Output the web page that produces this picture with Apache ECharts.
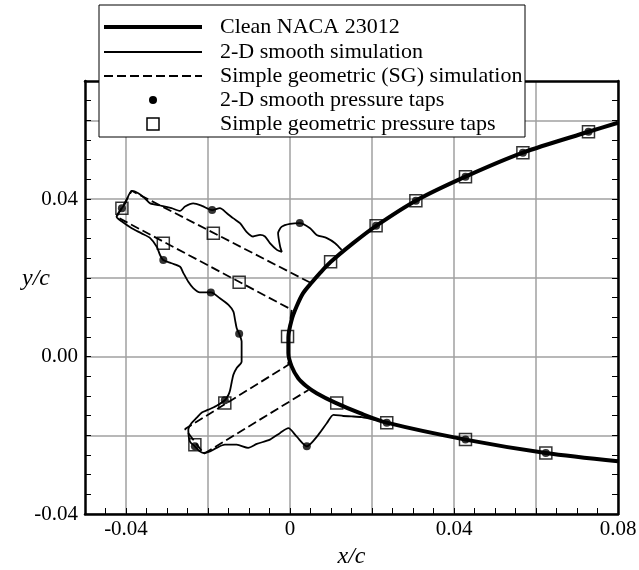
<!DOCTYPE html>
<html>
<head>
<meta charset="utf-8">
<script src="https://cdn.jsdelivr.net/npm/echarts@6/dist/echarts.min.js"></script>
<style>
  html, body { margin: 0; padding: 0; background: #fff; }
  #chart { width: 639px; height: 570px; }
</style>
</head>
<body>
<div id="chart"></div>
<script>
// clean NACA 23012 leading edge, upper trailing side -> lower trailing side
const cleanAirfoil = [
  [0.0800, 0.0594], [0.0728, 0.0571], [0.0568, 0.0518], [0.0428, 0.0457],
  [0.0307, 0.0396], [0.0210, 0.0332], [0.0154, 0.0288], [0.0099, 0.0240],
  [0.0073, 0.0212], [0.0053, 0.0188], [0.0032, 0.0161], [0.0016, 0.0127],
  [0.0004, 0.0093], [-0.0004, 0.0049], [-0.0004, 0.0009], [0.0004, -0.0025],
  [0.0020, -0.0055], [0.0041, -0.0076], [0.0065, -0.0093], [0.0110, -0.0117],
  [0.0171, -0.0144], [0.0236, -0.0168], [0.0428, -0.0211], [0.0624, -0.0245],
  [0.0800, -0.0266]
]

// 2-D smooth ice shape outline
const smoothIce = [
  [0.0126, 0.0271], [0.0110, 0.0288], [0.0090, 0.0301], [0.0065, 0.0309],
  [0.0049, 0.0326], [0.0024, 0.0339], [0.0000, 0.0337], [-0.0020, 0.0330],
  [-0.0029, 0.0313], [-0.0024, 0.0279], [-0.0020, 0.0266], [-0.0032, 0.0271],
  [-0.0049, 0.0288], [-0.0061, 0.0305], [-0.0073, 0.0309], [-0.0090, 0.0305],
  [-0.0106, 0.0317], [-0.0122, 0.0339], [-0.0138, 0.0351], [-0.0154, 0.0364],
  [-0.0171, 0.0377], [-0.0190, 0.0372], [-0.0215, 0.0383], [-0.0236, 0.0389],
  [-0.0256, 0.0381], [-0.0268, 0.0370], [-0.0289, 0.0377], [-0.0313, 0.0383],
  [-0.0341, 0.0389], [-0.0354, 0.0402], [-0.0370, 0.0415], [-0.0386, 0.0421],
  [-0.0402, 0.0389], [-0.0410, 0.0377], [-0.0423, 0.0355], [-0.0410, 0.0343],
  [-0.0386, 0.0326], [-0.0362, 0.0313], [-0.0341, 0.0301], [-0.0325, 0.0279],
  [-0.0317, 0.0258], [-0.0309, 0.0245], [-0.0289, 0.0237], [-0.0268, 0.0228],
  [-0.0260, 0.0212], [-0.0248, 0.0190], [-0.0236, 0.0174], [-0.0220, 0.0163],
  [-0.0193, 0.0163], [-0.0171, 0.0148], [-0.0150, 0.0131], [-0.0138, 0.0114],
  [-0.0134, 0.0093], [-0.0130, 0.0072], [-0.0124, 0.0058], [-0.0118, 0.0038],
  [-0.0118, 0.0013], [-0.0118, -0.0013], [-0.0130, -0.0029], [-0.0138, -0.0046],
  [-0.0142, -0.0064], [-0.0146, -0.0085], [-0.0150, -0.0097], [-0.0159, -0.0111],
  [-0.0179, -0.0125], [-0.0199, -0.0135], [-0.0215, -0.0142], [-0.0228, -0.0156],
  [-0.0240, -0.0169], [-0.0248, -0.0186], [-0.0244, -0.0216], [-0.0232, -0.0228],
  [-0.0220, -0.0241], [-0.0211, -0.0245], [-0.0195, -0.0241], [-0.0179, -0.0232],
  [-0.0159, -0.0224], [-0.0130, -0.0224], [-0.0102, -0.0232], [-0.0081, -0.0222],
  [-0.0049, -0.0211], [-0.0024, -0.0194], [-0.0004, -0.0182], [0.0016, -0.0203],
  [0.0041, -0.0228], [0.0069, -0.0199], [0.0090, -0.0169], [0.0106, -0.0148],
  [0.0130, -0.0151], [0.0150, -0.0152], [0.0175, -0.0154], [0.0211, -0.0162]
]

// simple geometric (SG) ice shape outline
const sgIce = [
  [0.0049, 0.0188], [-0.0386, 0.0421], [-0.0423, 0.0355], [0.0004, 0.0119],
  [-0.0003, 0.0060], [-0.0005, 0.0025], [-0.0004, -0.0021], [-0.0256, -0.0184],
  [-0.0210, -0.0247], [0.0045, -0.0085]
]

// pressure tap locations
const sgTaps = [
  [-0.0410, 0.0377], [-0.0309, 0.0288], [-0.0187, 0.0313], [-0.0124, 0.0189],
  [0.0099, 0.0241], [-0.0006, 0.0051], [0.0210, 0.0332], [0.0307, 0.0396],
  [0.0428, 0.0457], [0.0568, 0.0518], [0.0728, 0.0571], [-0.0159, -0.0118],
  [-0.0232, -0.0224], [0.0114, -0.0118], [0.0236, -0.0168], [0.0428, -0.0211],
  [0.0624, -0.0245]
]
const smoothTaps = [
  [-0.0410, 0.0377], [-0.0190, 0.0372], [-0.0309, 0.0245], [-0.0193, 0.0163],
  [-0.0124, 0.0058], [0.0024, 0.0339], [-0.0159, -0.0111], [-0.0232, -0.0228],
  [0.0041, -0.0228], [0.0210, 0.0332], [0.0307, 0.0396], [0.0428, 0.0457],
  [0.0568, 0.0518], [0.0728, 0.0571], [0.0236, -0.0168], [0.0428, -0.0211],
  [0.0624, -0.0245]
]

const legendNames = [
  'Clean NACA 23012',
  '2-D smooth simulation',
  'Simple geometric (SG) simulation',
  '2-D smooth pressure taps',
  'Simple geometric pressure taps'
]

const FONT = '"Liberation Serif", "DejaVu Serif", serif'

function isLabelTick(v) {
  const k = v / 0.04
  return Math.abs(k - Math.round(k)) < 1e-6
}

const chart = echarts.init(document.getElementById('chart'), null, { renderer: 'canvas' })

const tickStyle = { color: '#000', width: 1 }
const frameLine = { show: true, onZero: false, lineStyle: { color: '#000', width: 2.5 } }
const gridGray = '#a0a0a0'

// legend drawn as a boxed key in the top left, as in the figure
const rowY = [27, 52, 76, 100, 124]
const legendItems = [
  { type: 'rect', shape: { x: 99, y: 5, width: 426, height: 132 }, style: { fill: '#fff', stroke: '#000', lineWidth: 1 } },
  { type: 'line', shape: { x1: 104, y1: rowY[0], x2: 202, y2: rowY[0] }, style: { stroke: '#000', lineWidth: 4 } },
  { type: 'line', shape: { x1: 104, y1: rowY[1], x2: 202, y2: rowY[1] }, style: { stroke: '#000', lineWidth: 1.8 } },
  { type: 'line', shape: { x1: 104, y1: rowY[2], x2: 202, y2: rowY[2] }, style: { stroke: '#000', lineWidth: 1.8, lineDash: [9, 4] } },
  { type: 'circle', shape: { cx: 153, cy: rowY[3], r: 4 }, style: { fill: '#000' } },
  { type: 'rect', shape: { x: 147, y: rowY[4] - 6, width: 12, height: 12 }, style: { fill: '#fff', stroke: '#000', lineWidth: 1.5 } }
]
legendNames.forEach((name, i) => {
  legendItems.push({
    type: 'text',
    x: 220,
    y: rowY[i],
    style: { text: name, font: '22px ' + FONT, fill: '#000', verticalAlign: 'middle' }
  })
})
// y axis title sits level with the 0.02 gridline in the figure
legendItems.push({
  type: 'text',
  x: 36,
  y: 279,
  style: { text: 'y/c', font: 'italic 24px ' + FONT, fill: '#000', align: 'center', verticalAlign: 'middle' }
})

const option = {
  animation: false,
  backgroundColor: '#fff',
  grid: { left: 85, right: 21, top: 81, bottom: 56, containLabel: false, outerBoundsMode: 'none' },
  xAxis: [
    {
      type: 'value',
      position: 'bottom',
      min: -0.05,
      max: 0.08,
      interval: 0.01,
      axisLine: frameLine,
      axisTick: { show: true, inside: true, length: 6, lineStyle: tickStyle },
      minorTick: { show: true, splitNumber: 2, length: 6, lineStyle: tickStyle },
      axisLabel: {
        color: '#000',
        fontFamily: FONT,
        fontSize: 21,
        margin: 5,
        formatter: v => (isLabelTick(v) ? (Math.abs(v) < 1e-9 ? '0' : v.toFixed(2)) : '')
      },
      splitLine: {
        show: true,
        showMinLine: true,
        showMaxLine: true,
        lineStyle: { color: ['rgba(0,0,0,0)', gridGray], width: 1.5 }
      },
      name: 'x/c',
      nameLocation: 'middle',
      nameGap: 30,
      nameTextStyle: { color: '#000', fontFamily: FONT, fontSize: 24, fontStyle: 'italic' }
    },
    {
      type: 'value',
      position: 'top',
      min: -0.05,
      max: 0.08,
      axisLine: frameLine,
      axisTick: { show: false },
      axisLabel: { show: false },
      splitLine: { show: false }
    }
  ],
  yAxis: [
    {
      type: 'value',
      position: 'left',
      min: -0.04,
      max: 0.07,
      interval: 0.01,
      axisLine: frameLine,
      axisTick: { show: true, inside: true, length: 6, lineStyle: tickStyle },
      minorTick: { show: true, splitNumber: 2, length: 6, lineStyle: tickStyle },
      axisLabel: {
        color: '#000',
        fontFamily: FONT,
        fontSize: 21,
        margin: 7,
        formatter: v => (isLabelTick(v) ? (Math.abs(v) < 1e-9 ? '0.00' : v.toFixed(2)) : '')
      },
      splitLine: {
        show: true,
        showMinLine: true,
        showMaxLine: true,
        lineStyle: { color: [gridGray, 'rgba(0,0,0,0)'], width: 1.5 }
      }
    },
    {
      type: 'value',
      position: 'right',
      min: -0.04,
      max: 0.07,
      interval: 0.01,
      axisLine: frameLine,
      axisTick: { show: true, inside: true, length: 6, lineStyle: tickStyle },
      minorTick: { show: true, splitNumber: 2, length: 6, lineStyle: tickStyle },
      axisLabel: { show: false },
      splitLine: { show: false }
    }
  ],
  series: [
    {
      name: legendNames[2],
      type: 'line',
      data: sgIce,
      symbol: 'none',
      z: 2,
      lineStyle: { color: '#000', width: 1.8, type: [9, 4] }
    },
    {
      name: legendNames[1],
      type: 'line',
      data: smoothIce,
      symbol: 'none',
      smooth: 0.25,
      z: 3,
      lineStyle: { color: '#000', width: 1.8 }
    },
    {
      name: legendNames[0],
      type: 'line',
      data: cleanAirfoil,
      symbol: 'none',
      smooth: 0.3,
      z: 4,
      lineStyle: { color: '#000', width: 4 }
    },
    {
      name: legendNames[4],
      type: 'scatter',
      data: sgTaps,
      symbol: 'rect',
      symbolSize: 12,
      z: 5,
      itemStyle: { color: 'rgba(0,0,0,0)', borderColor: '#000', borderWidth: 1.5 }
    },
    {
      name: legendNames[3],
      type: 'scatter',
      data: smoothTaps,
      symbol: 'circle',
      symbolSize: 8,
      z: 6,
      itemStyle: { color: '#000' }
    }
  ],
  graphic: { elements: legendItems.map(el => Object.assign({ z: 100 }, el)) }
}

chart.setOption(option)
</script>
</body>
</html>
